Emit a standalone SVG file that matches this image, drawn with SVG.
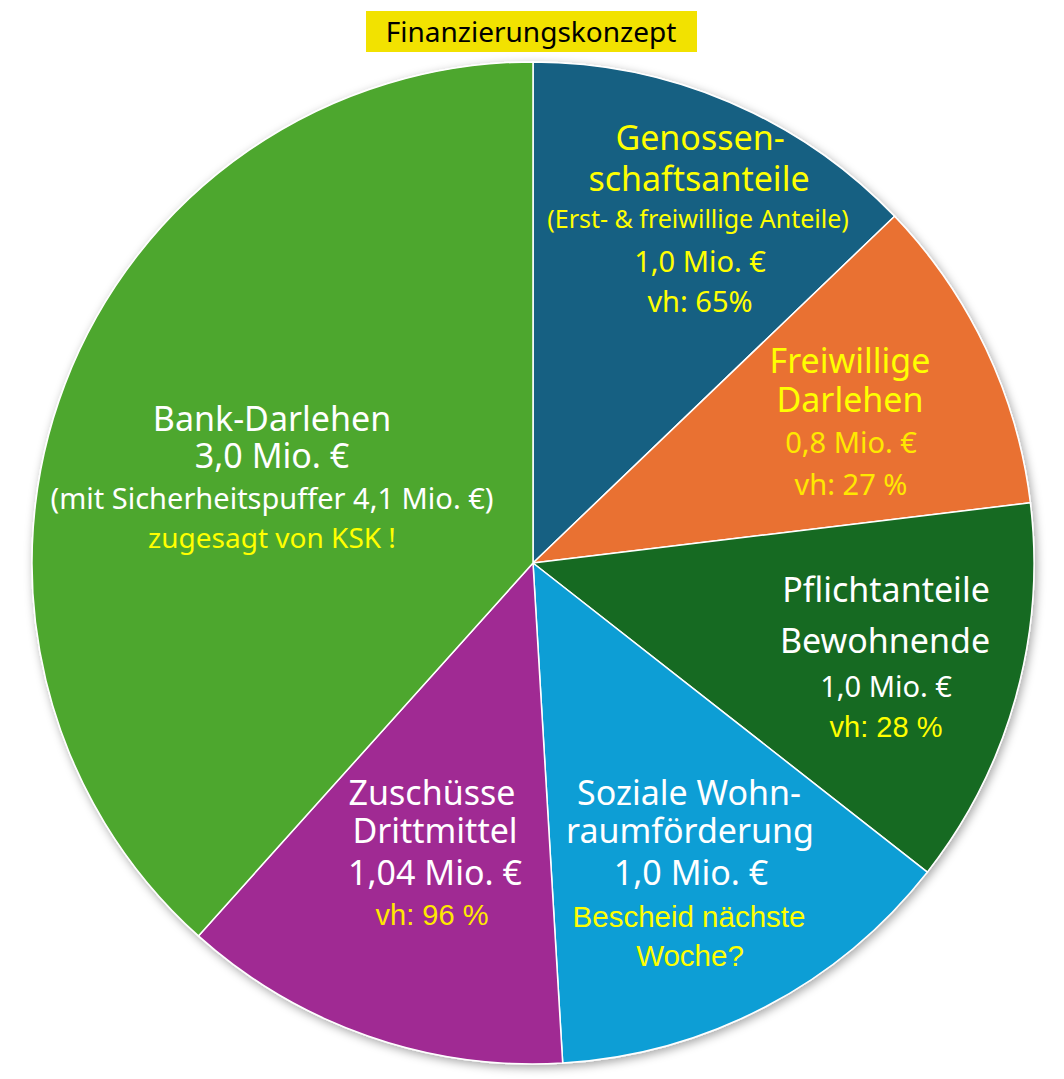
<svg xmlns="http://www.w3.org/2000/svg" width="1064" height="1079" viewBox="0 0 1064 1079">
<defs>
<filter id="sh" x="-10%" y="-10%" width="120%" height="120%">
<feDropShadow dx="2" dy="3" stdDeviation="5" flood-color="#000" flood-opacity="0.35"/>
</filter>
<style>
.sl{stroke:#fff;stroke-width:1.5;stroke-linejoin:round}
text{font-family:"Noto Sans","Open Sans",sans-serif;text-anchor:middle}
.a{font-family:"Liberation Sans",Arial,sans-serif}
.w{fill:#fff}
.y{fill:#ffff00}
.g{fill:#ffe800}
.h{font-size:34px}
.m{font-size:29px}
.s{font-size:25px}
</style>
</defs>
<rect width="1064" height="1079" fill="#fff"/>
<g id="title">
<rect x="366" y="11" width="331" height="41" fill="#f2e200"/>
<text x="531" y="42" style="font-size:28px" fill="#000">Finanzierungskonzept</text>
</g>
<g id="pie" filter="url(#sh)">
<g id="genossenschaftsanteile">
<path class="sl" fill="#156082" d="M533,563 L533,62 A501,501 0 0 1 894.6,216.3 Z"/>
</g>
<g id="freiwillige-darlehen">
<path class="sl" fill="#e97132" d="M533,563 L894.6,216.3 A501,501 0 0 1 1030.4,502.8 Z"/>
</g>
<g id="pflichtanteile">
<path class="sl" fill="#196b24" d="M533,563 L1030.4,502.8 A501,501 0 0 1 927.3,872.1 Z"/>
</g>
<g id="soziale-wohnraumfoerderung">
<path class="sl" fill="#0f9ed5" d="M533,563 L927.3,872.1 A501,501 0 0 1 562.7,1063.1 Z"/>
</g>
<g id="zuschuesse">
<path class="sl" fill="#a02b93" d="M533,563 L562.7,1063.1 A501,501 0 0 1 198.4,935.9 Z"/>
</g>
<g id="bank-darlehen">
<path class="sl" fill="#4ea72e" d="M533,563 L198.4,935.9 A501,501 0 0 1 533,62 Z"/>
</g>
</g>
<g id="labels">
<g id="label-genossen">
<text class="h y" x="700" y="150">Genossen-</text>
<text class="h y" x="699" y="191">schaftsanteile</text>
<text class="s y" x="698" y="228">(Erst- &amp; freiwillige Anteile)</text>
<text class="m y" x="700" y="272">1,0 Mio. €</text>
<text class="m y" x="700" y="312">vh: 65%</text>
</g>
<g id="label-freiwillige">
<text class="h y" x="850" y="373">Freiwillige</text>
<text class="h y" x="850" y="412">Darlehen</text>
<text class="m g" x="851" y="453">0,8 Mio. €</text>
<text class="m g" x="851" y="495">vh: 27 %</text>
</g>
<g id="label-pflicht">
<text class="h w" x="886" y="602">Pflichtanteile</text>
<text class="h w" x="885" y="653">Bewohnende</text>
<text class="m w" x="886" y="697">1,0 Mio. €</text>
<text class="a m y" x="886" y="737">vh: 28 %</text>
</g>
<g id="label-soziale">
<text class="h w" x="689" y="805">Soziale Wohn-</text>
<text class="h w" x="690" y="843">raumförderung</text>
<text class="h w" x="691" y="885">1,0 Mio. €</text>
<text class="a y" style="font-size:29.5px" x="689" y="927">Bescheid nächste</text>
<text class="a y" style="font-size:29.5px" x="690" y="966">Woche?</text>
</g>
<g id="label-zuschuesse">
<text class="h w" x="432" y="805">Zuschüsse</text>
<text class="h w" x="435" y="843">Drittmittel</text>
<text class="h w" x="435" y="885">1,04 Mio. €</text>
<text class="a m g" x="432" y="925">vh: 96 %</text>
</g>
<g id="label-bank">
<text class="h w" x="272" y="431">Bank-Darlehen</text>
<text class="h w" x="272" y="468">3,0 Mio. €</text>
<text class="m w" x="272" y="509">(mit Sicherheitspuffer 4,1 Mio. €)</text>
<text class="y" style="font-size:28px" x="272" y="548">zugesagt von KSK !</text>
</g>
</g>
</svg>
